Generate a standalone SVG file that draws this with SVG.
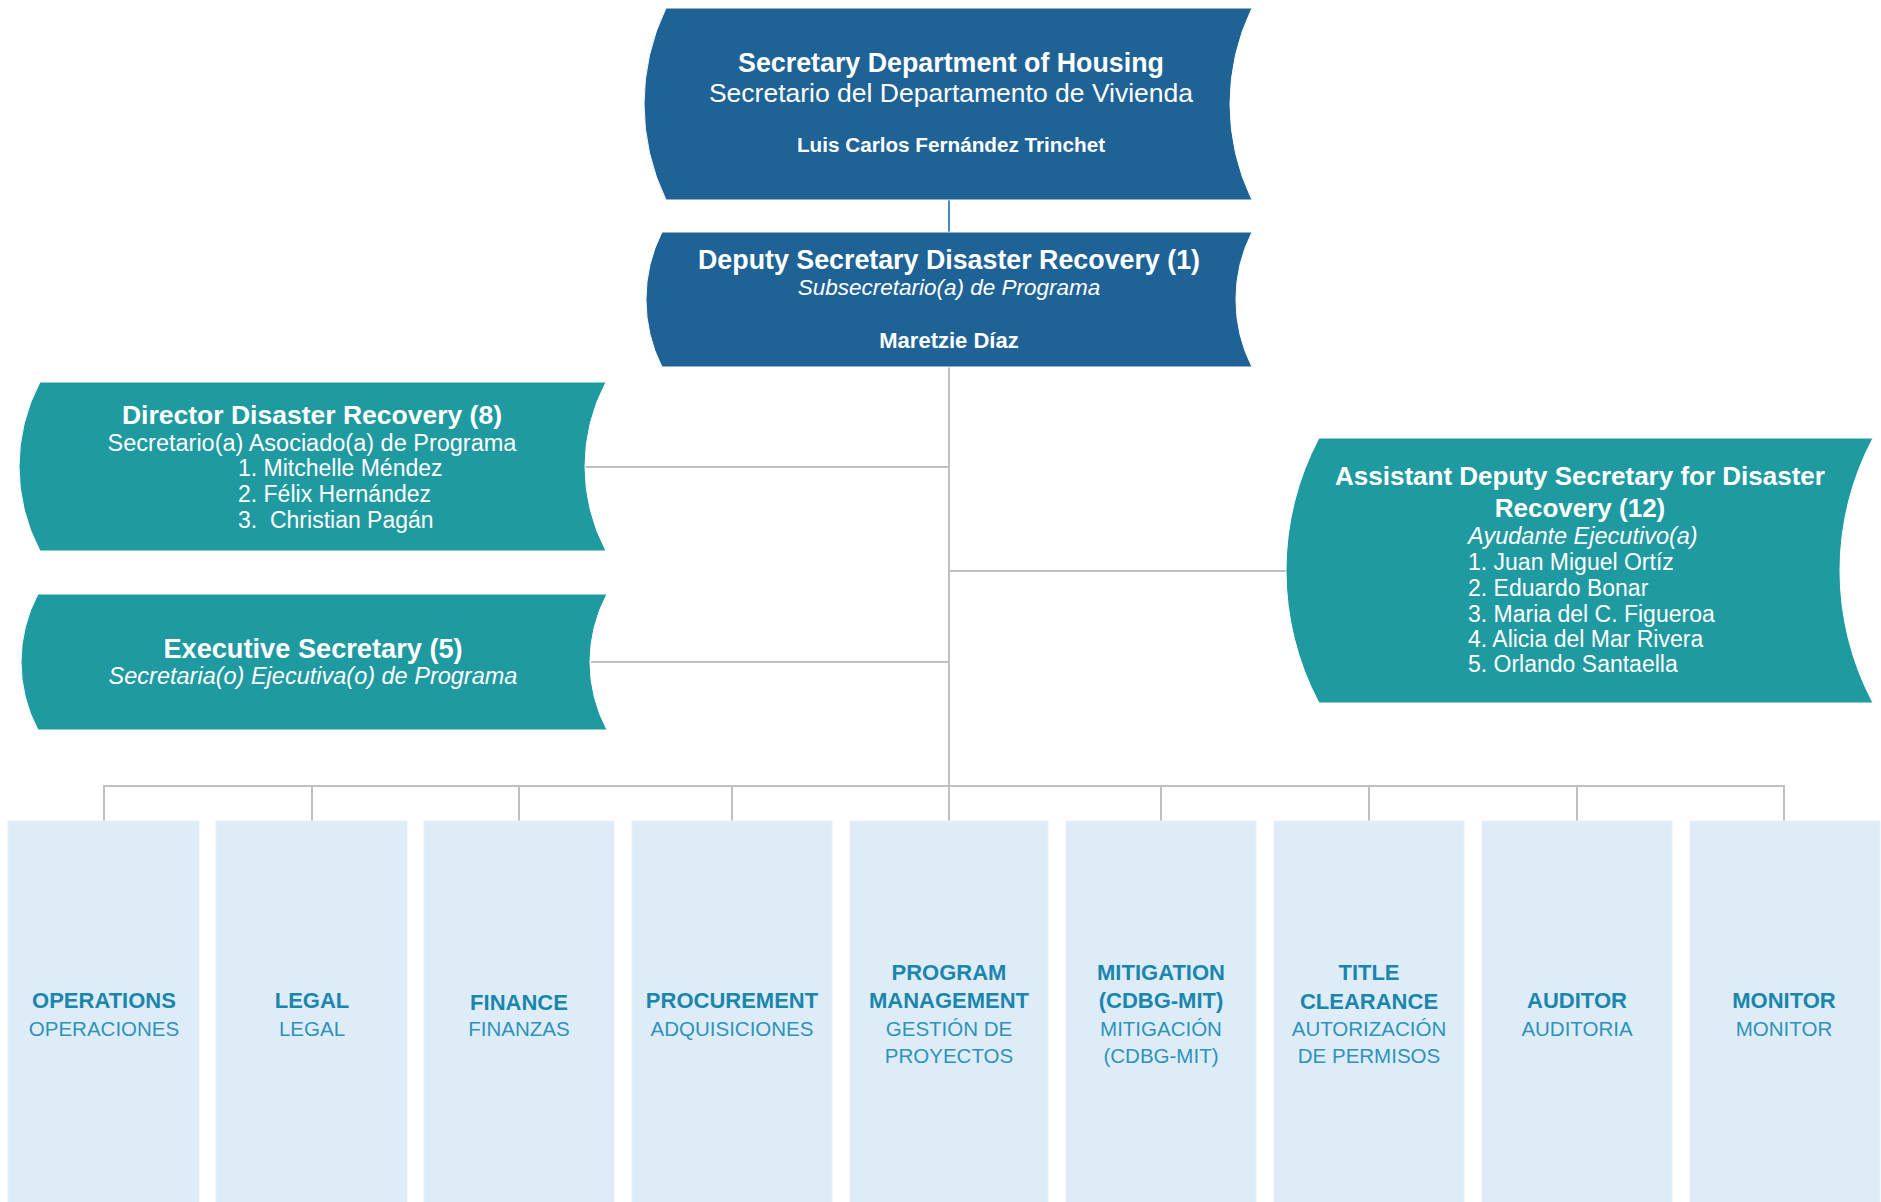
<svg xmlns="http://www.w3.org/2000/svg" width="1881" height="1202" viewBox="0 0 1881 1202">
<style>
text{font-family:"Liberation Sans",Arial,sans-serif;}
.w{fill:#ffffff;}
.b{font-weight:bold;}
.it{font-style:italic;}
.mid{text-anchor:middle;}
.dark{fill:#1f6396;stroke:#ffffff;stroke-width:1;}
.teal{fill:#1f9aa1;stroke:#ffffff;stroke-width:1;}
.dept{fill:#deecf8;stroke:#e9f1f9;stroke-width:1;}
.dt{fill:#1a86ad;font-weight:bold;font-size:22px;text-anchor:middle;}
.ds{fill:#2d93bb;font-size:20.5px;text-anchor:middle;}
.con{stroke:#c0c0c0;stroke-width:2;fill:none;}
</style>
<rect width="1881" height="1202" fill="#ffffff"/>
<g id="connectors">
<line x1="949" y1="200" x2="949" y2="232" stroke="#3f8cc2" stroke-width="2"/>
<line class="con" x1="949" y1="367" x2="949" y2="786"/>
<line class="con" x1="585" y1="467" x2="949" y2="467"/>
<line class="con" x1="591" y1="662" x2="949" y2="662"/>
<line class="con" x1="949" y1="571" x2="1287" y2="571"/>
<polyline class="con" points="104,821 104,786 1784,786 1784,821"/>
<line class="con" x1="312" y1="786" x2="312" y2="821"/>
<line class="con" x1="519" y1="786" x2="519" y2="821"/>
<line class="con" x1="732" y1="786" x2="732" y2="821"/>
<line class="con" x1="949" y1="786" x2="949" y2="821"/>
<line class="con" x1="1161" y1="786" x2="1161" y2="821"/>
<line class="con" x1="1369" y1="786" x2="1369" y2="821"/>
<line class="con" x1="1577" y1="786" x2="1577" y2="821"/>
</g>
<g id="secretary">
<path class="dark" d="M666,8 L1252,8 A220.5,220.5 0 0 0 1252,200 L666,200 A220.5,220.5 0 0 1 666,8 Z"/>
<text class="w b mid" x="951" y="72" font-size="26.8">Secretary Department of Housing</text>
<text class="w mid" x="951" y="102" font-size="26.5">Secretario del Departamento de Vivienda</text>
<text class="w b mid" x="951" y="152" font-size="20.7">Luis Carlos Fernández Trinchet</text>
</g>
<g id="deputy">
<path class="dark" d="M662,232 L1252,232 A150,150 0 0 0 1252,367 L662,367 A150,150 0 0 1 662,232 Z"/>
<text class="w b mid" x="949" y="269" font-size="26.8">Deputy Secretary Disaster Recovery (1)</text>
<text class="w it mid" x="949" y="295" font-size="22.5">Subsecretario(a) de Programa</text>
<text class="w b mid" x="949" y="348" font-size="22">Maretzie Díaz</text>
</g>
<g id="director">
<path class="teal" d="M40,382 L606,382 A180.5,180.5 0 0 0 606,551 L40,551 A180.5,180.5 0 0 1 40,382 Z"/>
<text class="w b mid" x="312" y="424" font-size="26.5">Director Disaster Recovery (8)</text>
<text class="w mid" x="312" y="451" font-size="23.5">Secretario(a) Asociado(a) de Programa</text>
<text class="w" x="238" y="476" font-size="23">1. Mitchelle Méndez</text>
<text class="w" x="238" y="502" font-size="23">2. Félix Hernández</text>
<text class="w" x="238" y="528" font-size="23" xml:space="preserve">3.  Christian Pagán</text>
</g>
<g id="executive">
<path class="teal" d="M38,594 L607,594 A144.5,144.5 0 0 0 607,730 L38,730 A144.5,144.5 0 0 1 38,594 Z"/>
<text class="w b mid" x="313" y="658" font-size="27.2">Executive Secretary (5)</text>
<text class="w it mid" x="313" y="684" font-size="23.5">Secretaria(o) Ejecutiva(o) de Programa</text>
</g>
<g id="assistant">
<path class="teal" d="M1319,438 L1873,438 A282.5,282.5 0 0 0 1873,703 L1319,703 A282.5,282.5 0 0 1 1319,438 Z"/>
<text class="w b mid" x="1580" y="485" font-size="26">Assistant Deputy Secretary for Disaster</text>
<text class="w b mid" x="1580" y="517" font-size="26">Recovery (12)</text>
<text class="w it" x="1468" y="544" font-size="23.5">Ayudante Ejecutivo(a)</text>
<text class="w" x="1468" y="570" font-size="23">1. Juan Miguel Ortíz</text>
<text class="w" x="1468" y="596" font-size="23">2. Eduardo Bonar</text>
<text class="w" x="1468" y="622" font-size="23">3. Maria del C. Figueroa</text>
<text class="w" x="1468" y="647" font-size="23">4. Alicia del Mar Rivera</text>
<text class="w" x="1468" y="672" font-size="23">5. Orlando Santaella</text>
</g>
<g id="operations">
<rect class="dept" x="8" y="821" width="191" height="390"/>
<text class="dt" x="104" y="1008">OPERATIONS</text>
<text class="ds" x="104" y="1036">OPERACIONES</text>
</g>
<g id="legal">
<rect class="dept" x="216" y="821" width="191" height="390"/>
<text class="dt" x="312" y="1008">LEGAL</text>
<text class="ds" x="312" y="1036">LEGAL</text>
</g>
<g id="finance">
<rect class="dept" x="424" y="821" width="190" height="390"/>
<text class="dt" x="519" y="1010">FINANCE</text>
<text class="ds" x="519" y="1036">FINANZAS</text>
</g>
<g id="procurement">
<rect class="dept" x="632" y="821" width="200" height="390"/>
<text class="dt" x="732" y="1008">PROCUREMENT</text>
<text class="ds" x="732" y="1036">ADQUISICIONES</text>
</g>
<g id="program-management">
<rect class="dept" x="850" y="821" width="198" height="390"/>
<text class="dt" x="949" y="980">PROGRAM</text>
<text class="dt" x="949" y="1008">MANAGEMENT</text>
<text class="ds" x="949" y="1036">GESTIÓN DE</text>
<text class="ds" x="949" y="1063">PROYECTOS</text>
</g>
<g id="mitigation">
<rect class="dept" x="1066" y="821" width="190" height="390"/>
<text class="dt" x="1161" y="980">MITIGATION</text>
<text class="dt" x="1161" y="1008">(CDBG-MIT)</text>
<text class="ds" x="1161" y="1036">MITIGACIÓN</text>
<text class="ds" x="1161" y="1063">(CDBG-MIT)</text>
</g>
<g id="title-clearance">
<rect class="dept" x="1274" y="821" width="190" height="390"/>
<text class="dt" x="1369" y="980">TITLE</text>
<text class="dt" x="1369" y="1009">CLEARANCE</text>
<text class="ds" x="1369" y="1036">AUTORIZACIÓN</text>
<text class="ds" x="1369" y="1063">DE PERMISOS</text>
</g>
<g id="auditor">
<rect class="dept" x="1482" y="821" width="190" height="390"/>
<text class="dt" x="1577" y="1008">AUDITOR</text>
<text class="ds" x="1577" y="1036">AUDITORIA</text>
</g>
<g id="monitor">
<rect class="dept" x="1690" y="821" width="190" height="390"/>
<text class="dt" x="1784" y="1008">MONITOR</text>
<text class="ds" x="1784" y="1036">MONITOR</text>
</g>
</svg>
